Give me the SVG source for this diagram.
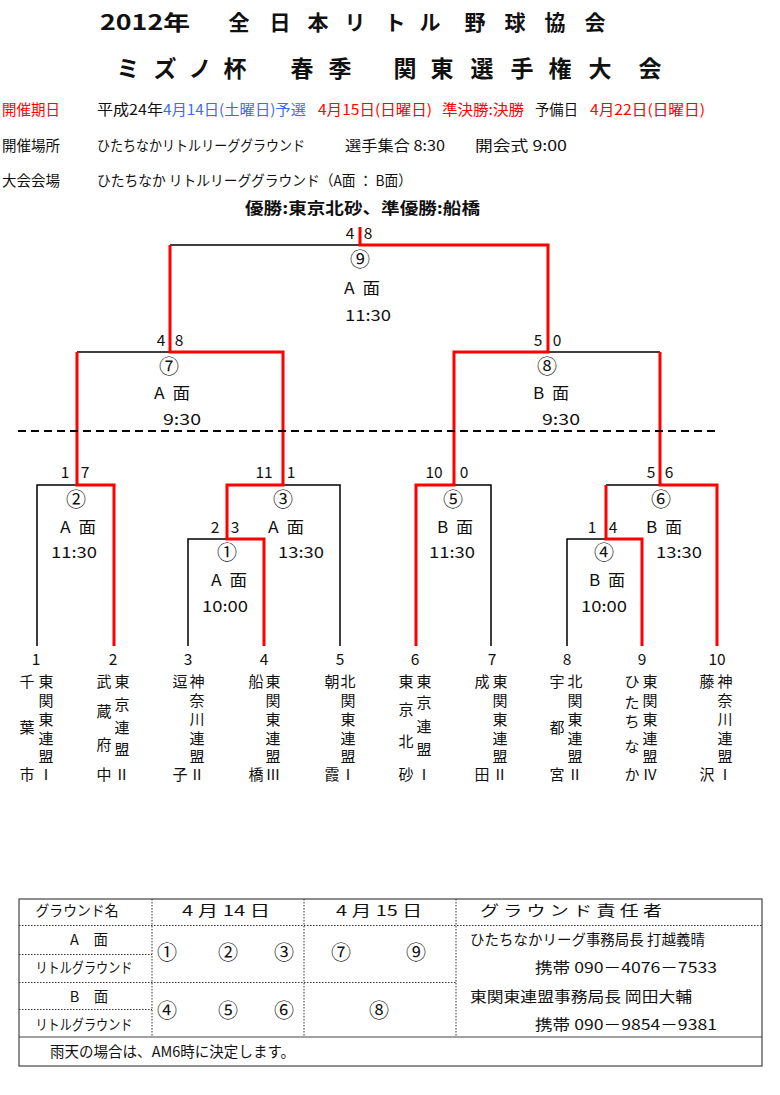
<svg xmlns="http://www.w3.org/2000/svg" width="780" height="1095" viewBox="0 0 780 1095">
<style>
text{font-family:"Noto Sans CJK JP","Noto Sans",sans-serif;fill:#111;}
.t1{font-size:21px;font-weight:bold;}
.t2{font-size:23px;font-weight:bold;}
.info{font-size:14.5px;}
.red{fill:#ff0000;}
.blue{fill:#3a6cf0;}
.lb{font-size:15.5px;text-anchor:middle;}
.cn{font-size:20px;text-anchor:middle;}
.tm{font-size:15px;text-anchor:middle;}
.tb{font-size:14.5px;}
.blk{fill:none;stroke:#000;stroke-width:1.5;}
.rd{fill:none;stroke:#ff0000;stroke-width:3;}
.dot{fill:none;stroke:#333;stroke-width:1;stroke-dasharray:1.5 1.5;}
</style>
<rect width="780" height="1095" fill="#fff"/>
<g id="header">
<text class="t1" x="100" y="30" textLength="90" lengthAdjust="spacingAndGlyphs">2012年</text>
<text class="t1" x="239 280 318 355 395 430 475 515 555 595" y="30" text-anchor="middle">全日本リトル野球協会</text>
<text class="t2" x="128 165 200 235 302 340 405 442 482 522 560 600 650" y="77" text-anchor="middle">ミズノ杯春季関東選手権大会</text>
<text class="info red" x="2" y="115" textLength="58" lengthAdjust="spacingAndGlyphs">開催期日</text>
<text class="info" x="97" y="115" textLength="66" lengthAdjust="spacingAndGlyphs">平成24年</text>
<text class="info blue" x="163" y="115" textLength="143" lengthAdjust="spacingAndGlyphs">4月14日(土曜日)予選</text>
<text class="info red" x="318" y="115" textLength="114" lengthAdjust="spacingAndGlyphs">4月15日(日曜日)</text>
<text class="info red" x="442" y="115" textLength="82" lengthAdjust="spacingAndGlyphs">準決勝:決勝</text>
<text class="info" x="535" y="115" textLength="43" lengthAdjust="spacingAndGlyphs">予備日</text>
<text class="info red" x="590" y="115" textLength="115" lengthAdjust="spacingAndGlyphs">4月22日(日曜日)</text>
<text class="info" x="2" y="151" textLength="58" lengthAdjust="spacingAndGlyphs">開催場所</text>
<text class="info" x="97" y="151" textLength="208" lengthAdjust="spacingAndGlyphs">ひたちなかリトルリーググラウンド</text>
<text class="info" x="345" y="151" textLength="100" lengthAdjust="spacingAndGlyphs">選手集合 8:30</text>
<text class="info" x="475" y="151" textLength="92" lengthAdjust="spacingAndGlyphs">開会式 9:00</text>
<text class="info" x="2" y="186" textLength="58" lengthAdjust="spacingAndGlyphs">大会会場</text>
<text class="info" x="97" y="186" textLength="315" lengthAdjust="spacingAndGlyphs">ひたちなか リトルリーググラウンド（A面 ： B面）</text>
<text x="245" y="214" font-size="16" font-weight="bold" textLength="235" lengthAdjust="spacingAndGlyphs">優勝:東京北砂、準優勝:船橋</text>
</g>
<g id="connectors">
<path class="blk" d="M170 245H360M77 352H170M548 352H660M37 646V485H77M283 485H340V646M188 646V539H227M455 485H491V646M606 485H660M567 646V539H606"/>
<path class="rd" d="M360 227V245H548V352H454V485H416V646"/>
<path class="rd" d="M170 245V352H283V485H227V539H264V646"/>
<path class="rd" d="M77 352V485H114V646"/>
<path class="rd" d="M660 352V485H717V646"/>
<path class="rd" d="M606 485V539H642V646"/>
<line x1="18" y1="431" x2="718" y2="431" stroke="#000" stroke-width="2" stroke-dasharray="8 5"/>
</g>
<g id="m9"><text class="lb" x="350" y="239">4</text><text class="lb" x="368" y="239">8</text><text class="cn" x="360" y="267">⑨</text><text class="lb" x="362" y="294" textLength="36" lengthAdjust="spacingAndGlyphs">A&#160;&#160;面</text><text class="lb" x="368" y="321" textLength="46" lengthAdjust="spacingAndGlyphs">11:30</text></g>
<g id="m7"><text class="lb" x="161" y="346">4</text><text class="lb" x="179" y="346">8</text><text class="cn" x="169" y="374">⑦</text><text class="lb" x="172" y="399" textLength="36" lengthAdjust="spacingAndGlyphs">A&#160;&#160;面</text><text class="lb" x="182" y="425" textLength="38" lengthAdjust="spacingAndGlyphs">9:30</text></g>
<g id="m8"><text class="lb" x="538" y="346">5</text><text class="lb" x="557" y="346">0</text><text class="cn" x="547" y="374">⑧</text><text class="lb" x="551" y="399" textLength="36" lengthAdjust="spacingAndGlyphs">B&#160;&#160;面</text><text class="lb" x="561" y="425" textLength="38" lengthAdjust="spacingAndGlyphs">9:30</text></g>
<g id="m2"><text class="lb" x="65" y="478">1</text><text class="lb" x="85" y="478">7</text><text class="cn" x="76" y="507">②</text><text class="lb" x="78" y="533" textLength="36" lengthAdjust="spacingAndGlyphs">A&#160;&#160;面</text><text class="lb" x="74" y="558" textLength="46" lengthAdjust="spacingAndGlyphs">11:30</text></g>
<g id="m3"><text class="lb" x="264" y="478">11</text><text class="lb" x="291" y="478">1</text><text class="cn" x="283" y="507">③</text><text class="lb" x="286" y="533" textLength="36" lengthAdjust="spacingAndGlyphs">A&#160;&#160;面</text><text class="lb" x="301" y="558" textLength="46" lengthAdjust="spacingAndGlyphs">13:30</text></g>
<g id="m1"><text class="lb" x="215" y="533">2</text><text class="lb" x="235" y="533">3</text><text class="cn" x="227" y="560">①</text><text class="lb" x="229" y="586" textLength="36" lengthAdjust="spacingAndGlyphs">A&#160;&#160;面</text><text class="lb" x="225" y="612" textLength="46" lengthAdjust="spacingAndGlyphs">10:00</text></g>
<g id="m5"><text class="lb" x="434" y="478">10</text><text class="lb" x="464" y="478">0</text><text class="cn" x="453" y="507">⑤</text><text class="lb" x="455" y="533" textLength="36" lengthAdjust="spacingAndGlyphs">B&#160;&#160;面</text><text class="lb" x="452" y="558" textLength="46" lengthAdjust="spacingAndGlyphs">11:30</text></g>
<g id="m6"><text class="lb" x="651" y="478">5</text><text class="lb" x="669" y="478">6</text><text class="cn" x="661" y="507">⑥</text><text class="lb" x="664" y="533" textLength="36" lengthAdjust="spacingAndGlyphs">B&#160;&#160;面</text><text class="lb" x="679" y="558" textLength="46" lengthAdjust="spacingAndGlyphs">13:30</text></g>
<g id="m4"><text class="lb" x="592" y="533">1</text><text class="lb" x="613" y="533">4</text><text class="cn" x="604" y="560">④</text><text class="lb" x="607" y="586" textLength="36" lengthAdjust="spacingAndGlyphs">B&#160;&#160;面</text><text class="lb" x="604" y="612" textLength="46" lengthAdjust="spacingAndGlyphs">10:00</text></g>
<g id="t1"><text class="lb" x="36" y="665">1</text><text class="tm" x="27 27 27" y="687 733 780">千葉市</text><text class="tm" x="46 46 46 46 46 46" y="687 706 725 744 762 780">東関東連盟Ⅰ</text></g>
<g id="t2"><text class="lb" x="113" y="665">2</text><text class="tm" x="104 104 104 104" y="687 717 750 780">武蔵府中</text><text class="tm" x="122 122 122 122 122" y="687 710 733 755 780">東京連盟Ⅱ</text></g>
<g id="t3"><text class="lb" x="188" y="665">3</text><text class="tm" x="180 180" y="687 780">逗子</text><text class="tm" x="197 197 197 197 197 197" y="687 706 725 744 762 780">神奈川連盟Ⅱ</text></g>
<g id="t4"><text class="lb" x="264" y="665">4</text><text class="tm" x="256 256" y="687 780">船橋</text><text class="tm" x="273 273 273 273 273 273" y="687 706 725 744 762 780">東関東連盟Ⅲ</text></g>
<g id="t5"><text class="lb" x="340" y="665">5</text><text class="tm" x="332 332" y="687 780">朝霞</text><text class="tm" x="348 348 348 348 348 348" y="687 706 725 744 762 780">北関東連盟Ⅰ</text></g>
<g id="t6"><text class="lb" x="415" y="665">6</text><text class="tm" x="406 406 406 406" y="687 715 747 780">東京北砂</text><text class="tm" x="424 424 424 424 424" y="687 708 732 755 780">東京連盟Ⅰ</text></g>
<g id="t7"><text class="lb" x="492" y="665">7</text><text class="tm" x="482 482" y="687 780">成田</text><text class="tm" x="500 500 500 500 500 500" y="687 706 725 744 762 780">東関東連盟Ⅱ</text></g>
<g id="t8"><text class="lb" x="567" y="665">8</text><text class="tm" x="557 557 557" y="687 733 780">宇都宮</text><text class="tm" x="575 575 575 575 575 575" y="687 706 725 744 762 780">北関東連盟Ⅱ</text></g>
<g id="t9"><text class="lb" x="642" y="665">9</text><text class="tm" x="632 632 632 632 632" y="687 708 727 752 780">ひたちなか</text><text class="tm" x="650 650 650 650 650 650" y="687 706 725 744 762 780">東関東連盟Ⅳ</text></g>
<g id="t10"><text class="lb" x="717" y="665">10</text><text class="tm" x="707 707" y="687 780">藤沢</text><text class="tm" x="725 725 725 725 725 725" y="687 706 725 744 762 780">神奈川連盟Ⅰ</text></g>
<g id="table">
<rect x="19" y="899" width="743" height="167" fill="none" stroke="#444" stroke-width="1.2"/>
<line x1="19" y1="1037" x2="762" y2="1037" stroke="#444" stroke-width="1.2"/>
<path class="dot" d="M19 925.5H762M19 954.5H152M19 982.5H456M19 1009.5H152M152 899V1037M304 899V1037M456 899V1037"/>
<text class="tb" x="77" y="916" text-anchor="middle" textLength="83" lengthAdjust="spacingAndGlyphs">グラウンド名</text>
<text class="tb" x="226" y="916" text-anchor="middle" textLength="88" lengthAdjust="spacingAndGlyphs">4 月 14 日</text>
<text class="tb" x="379" y="916" text-anchor="middle" textLength="86" lengthAdjust="spacingAndGlyphs">4 月 15 日</text>
<text class="tb" x="480" y="916" textLength="182" lengthAdjust="spacingAndGlyphs">グ ラ ウ ン ド 責 任 者</text>
<text class="tb" x="89" y="945" text-anchor="middle">A　面</text>
<text class="tb" x="84" y="973" text-anchor="middle" textLength="97" lengthAdjust="spacingAndGlyphs">リトルグラウンド</text>
<text class="tb" x="89" y="1002" text-anchor="middle">B　面</text>
<text class="tb" x="84" y="1030" text-anchor="middle" textLength="97" lengthAdjust="spacingAndGlyphs">リトルグラウンド</text>
<text class="cn" x="167 228 284 341 416" y="960">①②③⑦⑨</text>
<text class="cn" x="167 228 284 379" y="1018">④⑤⑥⑧</text>
<text class="tb" x="470" y="945" textLength="235" lengthAdjust="spacingAndGlyphs">ひたちなかリーグ事務局長 打越義晴</text>
<text class="tb" x="535" y="973" textLength="182" lengthAdjust="spacingAndGlyphs">携帯 090－4076－7533</text>
<text class="tb" x="470" y="1002" textLength="222" lengthAdjust="spacingAndGlyphs">東関東連盟事務局長 岡田大輔</text>
<text class="tb" x="535" y="1030" textLength="182" lengthAdjust="spacingAndGlyphs">携帯 090－9854－9381</text>
<text class="tb" x="50" y="1057" textLength="245" lengthAdjust="spacingAndGlyphs">雨天の場合は、AM6時に決定します。</text>
</g>
</svg>
